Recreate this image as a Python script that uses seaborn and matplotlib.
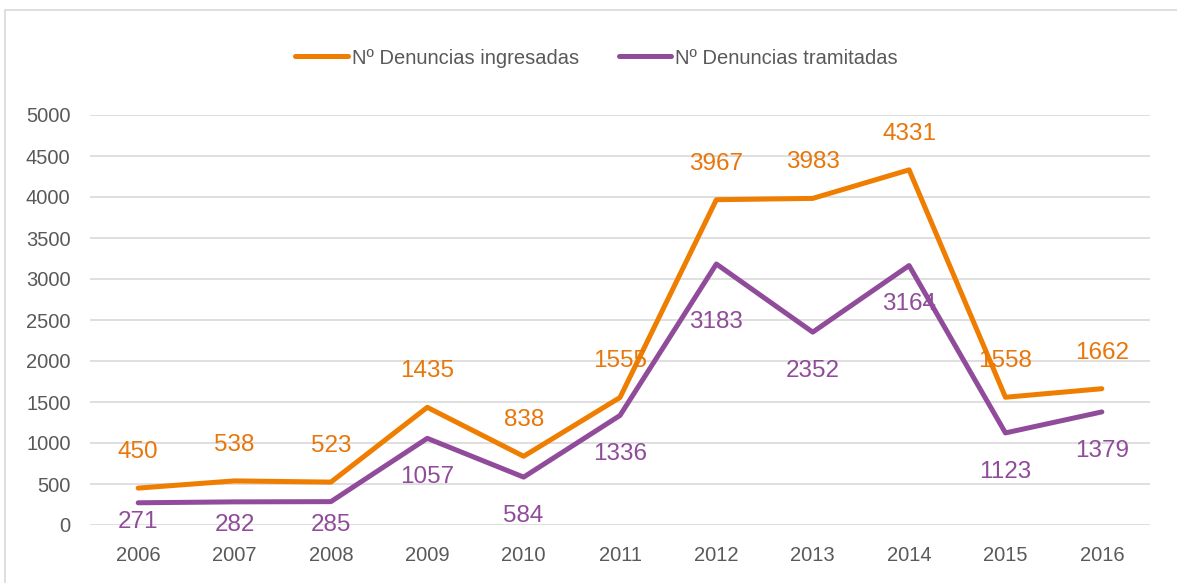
import numpy as np
import pandas as pd
import matplotlib
matplotlib.use("Agg")
import matplotlib.pyplot as plt
import seaborn as sns
from matplotlib import font_manager

# ── Data ──────────────────────────────────────────────
years = ["2006", "2007", "2008", "2009", "2010", "2011",
         "2012", "2013", "2014", "2015", "2016"]
ingresadas = [450, 538, 523, 1435, 838, 1555, 3967, 3983, 4331, 1558, 1662]
tramitadas = [271, 282, 285, 1057, 584, 1336, 3183, 2352, 3164, 1123, 1379]
series_names = ["Nº Denuncias ingresadas", "Nº Denuncias tramitadas"]
y_ticks = [0, 500, 1000, 1500, 2000, 2500, 3000, 3500, 4000, 4500, 5000]

# label offsets in points (orange above, purple below)
off_ing = [26, 26, 26, 26, 26, 26, 26, 26, 26, 26, 26]
off_tra = [-14, -17, -17, -28, -28, -28, -42, -28, -28, -28, -28]

ORANGE = "#EE7D00"
PURPLE = "#904C9A"
GREY = "#595959"

df = pd.DataFrame({
    "year": years * 2,
    "value": ingresadas + tramitadas,
    "serie": [series_names[0]] * len(years) + [series_names[1]] * len(years),
})

# ── Style ─────────────────────────────────────────────
sns.set_style("white")
names = {f.name for f in font_manager.fontManager.ttflist}
fam = "Liberation Sans Narrow" if "Liberation Sans Narrow" in names else "Liberation Sans"
plt.rcParams["font.family"] = [fam, "DejaVu Sans"]

fig = plt.figure(figsize=(11.77, 5.83), dpi=100)
ax = fig.add_axes([90 / 1177, 1 - 525 / 583, 1060 / 1177, 410 / 583])

sns.lineplot(data=df, x="year", y="value", hue="serie",
             palette=[ORANGE, PURPLE], linewidth=3.6, ax=ax,
             sort=False, legend=True)

# data labels
for i, (a, b) in enumerate(zip(ingresadas, tramitadas)):
    ax.annotate(str(a), (i, a), xytext=(0, off_ing[i]), textcoords="offset points",
                ha="center", va="center", color="#E8760A", fontsize=17.5)
    ax.annotate(str(b), (i, b), xytext=(0, off_tra[i]), textcoords="offset points",
                ha="center", va="center", color=PURPLE, fontsize=17.5)

ax.set_ylim(0, 5000)
ax.set_xlim(-0.5, len(years) - 0.5)
ax.set_yticks(y_ticks)
ax.set_yticklabels([str(t) for t in y_ticks])
ax.yaxis.grid(True, color="#D9D9D9", linewidth=1.2)
ax.set_axisbelow(True)
for s in ax.spines.values():
    s.set_visible(False)
ax.tick_params(axis="both", length=0, labelsize=14.5, colors=GREY)
ax.tick_params(axis="x", pad=15)
ax.tick_params(axis="y", pad=14)
ax.set_xlabel("")
ax.set_ylabel("")

leg = ax.legend(loc="center", bbox_to_anchor=(0.478, 1.139), ncol=2,
                frameon=False, fontsize=14.5, handlelength=2.6, columnspacing=2.0,
                handletextpad=0.2)
for t in leg.get_texts():
    t.set_color(GREY)
for h in leg.get_lines():
    h.set_linewidth(3.6)
    h.set_solid_capstyle("round")

# outer frame
fig.patches.append(plt.Rectangle((5 / 1177, -0.1), 1.2, 1 - 10 / 583 + 0.1,
                                 transform=fig.transFigure, fill=False,
                                 edgecolor="#D9D9D9", linewidth=1.2))

fig.savefig("out.png", dpi=100)
